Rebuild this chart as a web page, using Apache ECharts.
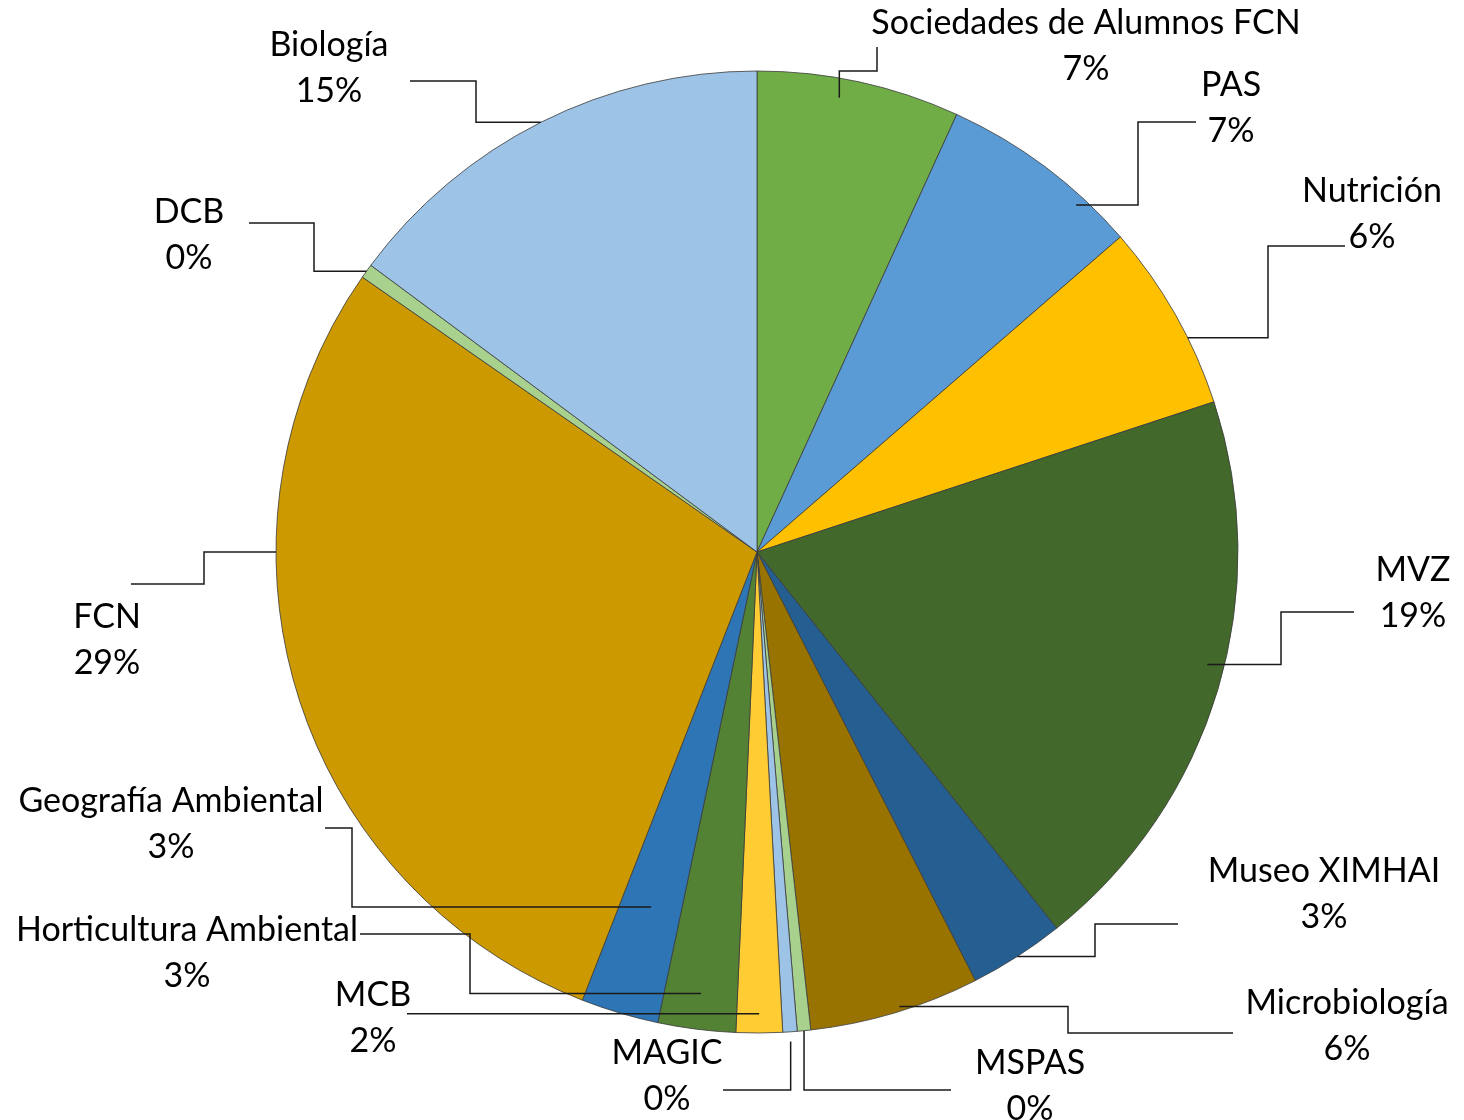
<!DOCTYPE html>
<html>
<head>
<meta charset="utf-8">
<script src="https://cdn.jsdelivr.net/npm/echarts@6/dist/echarts.min.js"></script>
<style>
html,body{margin:0;padding:0;background:#fff;}
#chart{width:1464px;height:1120px;}
</style>
</head>
<body>
<div id="chart"></div>
<script>
// ---- data ----
const categories = ['Sociedades de Alumnos FCN','PAS','Nutrición','MVZ','Museo XIMHAI','Microbiología','MSPAS','MAGIC','MCB','Horticultura Ambiental','Geografía Ambiental','FCN','DCB','Biología'];
const values = [6.8, 6.8, 6.3, 19.3, 3.2, 5.7, 0.45, 0.48, 1.55, 2.6, 2.6, 28.7, 0.48, 14.8];
const colors = ['#70AD47','#5B9BD5','#FFC000','#43682B','#255E91','#997300','#A9D18E','#9DC3E6','#FFCD33','#548235','#2E75B6','#CC9900','#A9D18E','#9DC3E6'];

// ---- layout (label placement & leader line routing) ----
const CX = 757, CY = 552, R = 481;
const labelLayouts = [
  {x:1086, y:46,  da:-2,   rf:0.96, path:[['v',71],['h',877],['v',47]]},
  {x:1231, y:108, da:5.8,  rf:0.98, path:[['h',1138],['v',122],['h',1196]]},
  {x:1372, y:214, da:3.1,  rf:1.0,  path:[['h',1268],['v',246],['h',1345]]},
  {x:1413, y:593, da:-2.6, rf:0.965,path:[['h',1281],['v',612],['h',1354]]},
  {x:1324, y:894, da:0,    rf:1.0,  path:[['h',1095],['v',924],['h',1178]]},
  {x:1347, y:1026,da:-0.7, rf:0.99, path:[['h',1068],['v',1033],['h',1233]]},
  {x:1030, y:1086,da:0,    rf:1.0,  path:[['v',1090],['h',951]]},
  {x:667,  y:1076,da:0,    rf:1.02, path:[['v',1090],['h',723]]},
  {x:373,  y:1018,da:0,    rf:0.96, path:[['h',407]]},
  {x:187,  y:953, da:0,    rf:0.925,path:[['h',470],['v',934],['h',360]]},
  {x:171,  y:824, da:0,    rf:0.77, path:[['h',352],['v',828],['h',325]]},
  {x:107,  y:640, abs:270, rf:1.0,  path:[['h',204],['v',584],['h',131]]},
  {x:189,  y:235, da:0,    rf:1.0,  path:[['h',314],['v',223],['h',249]]},
  {x:329,  y:68,  da:0,    rf:1.0,  path:[['h',476],['v',81],['h',410]]}
];

const total = values.reduce((a,b)=>a+b,0);
const chart = echarts.init(document.getElementById('chart'), null, {renderer:'canvas'});

const base = {
  type:'pie',
  center:[CX, CY],
  radius:R,
  startAngle:90,
  clockwise:true,
  avoidLabelOverlap:false,
  minShowLabelAngle:0,
  emphasis:{disabled:true},
  silent:true
};

chart.setOption({
  animation:false,
  backgroundColor:'#ffffff',
  series:[
    Object.assign({}, base, {
      z:2,
      data: categories.map((c,i)=>({name:c, value:values[i], itemStyle:{color:colors[i]}})),
      itemStyle:{borderColor:'#3a3a3a', borderWidth:0.8},
      label:{show:false},
      labelLine:{show:false}
    }),
    Object.assign({}, base, {
      z:5,
      data: categories.map((c,i)=>({name:c, value:values[i]})),
      itemStyle:{color:'rgba(0,0,0,0)', borderWidth:0},
      label:{
        show:true,
        position:'outside',
        formatter: p => p.name + '\n' + Math.round(p.value/total*100) + '%',
        fontFamily:'Lato',
        fontSize:34,
        lineHeight:46,
        color:'#000',
        align:'center'
      },
      labelLine:{show:true, showAbove:true, lineStyle:{color:'#1a1a1a', width:1.5}},
      labelLayout: function(params){
        const L = labelLayouts[params.dataIndex];
        const p0 = params.labelLinePoints[0];
        let theta = Math.atan2(p0[0]-CX, -(p0[1]-CY));
        if (L.abs != null) theta = L.abs*Math.PI/180;
        else theta += L.da*Math.PI/180;
        const sx = CX + R*L.rf*Math.sin(theta);
        const sy = CY - R*L.rf*Math.cos(theta);
        const pts = [[sx, sy]];
        let cx = sx, cy = sy;
        L.path.forEach(s=>{ if(s[0]==='h') cx = s[1]; else cy = s[1]; pts.push([cx, cy]); });
        return {x:L.x, y:L.y, align:'center', verticalAlign:'middle', labelLinePoints:pts};
      }
    })
  ]
});
</script>
</body>
</html>
